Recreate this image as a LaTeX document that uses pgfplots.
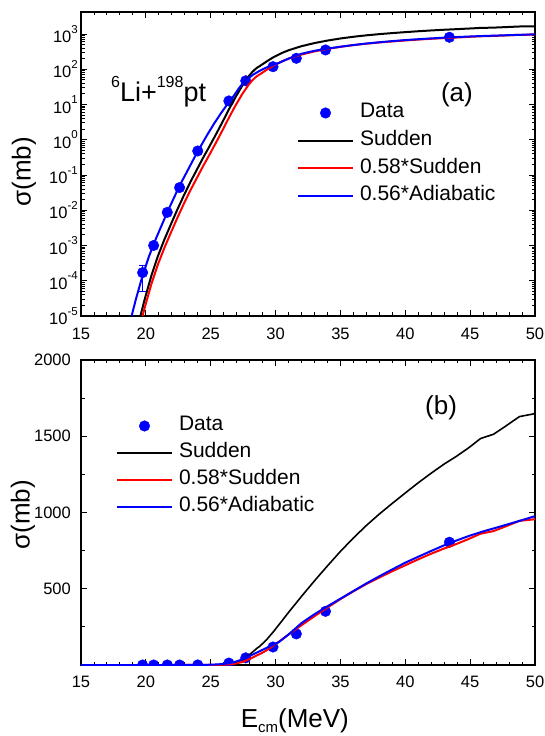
\documentclass[border=0pt]{standalone}
\usepackage{fontspec}
\setmainfont{Liberation Sans}
\usepackage{pgfplots}
\usepackage{pgfplotstable}
\pgfplotsset{compat=1.18}
\newcommand\fs[1]{\fontsize{#1}{#1}\selectfont}
\newcommand\tsup[1]{\raisebox{9.5pt}{\fs{11.5}#1}}

\pgfplotstableread{
E s
15 1e-7
19.4 5.0e-6
19.58 1.0e-5
19.93 3.16e-5
20.43 1.41e-4
20.93 5.01e-4
21.43 1.48e-3
21.93 3.98e-3
22.43 1.05e-2
22.93 2.63e-2
23.43 6.31e-2
23.93 0.141
24.43 0.316
24.93 0.676
25.43 1.48
25.93 3.31
26.43 7.59
26.93 16.6
27.43 33.9
27.93 63.1
28.2 83
28.43 100
28.6 112
28.77 122
29.3 165
29.8 215
30.5 290
31 345
32 450
33 552
34 650
35 745
36 833
37 915
38 990
39 1060
40 1128
41 1195
42 1258
43 1318
43.9 1366
44.9 1425
45.8 1485
46.8 1513
47.8 1570
48.8 1629
49.8 1645
50 1650
}\sudden

\pgfplotstableread{
E s
15 5.8e-8
19.4 2.9e-6
19.58 5.8e-6
19.93 1.83e-5
20.43 8.18e-5
20.93 2.91e-4
21.43 8.58e-4
21.93 2.31e-3
22.43 6.09e-3
22.93 1.53e-2
23.43 3.66e-2
23.93 8.18e-2
24.43 0.183
24.93 0.392
25.43 0.858
25.93 1.92
26.43 4.40
26.93 9.63
27.43 19.7
27.93 36.6
28.2 48.1
28.43 58.0
28.6 65.0
28.77 70.8
29.3 95.7
29.8 124.7
30.5 168
31 200
32 261
33 320
34 377
35 432
36 483
37 531
38 574
39 615
40 654
41 693
42 730
43 764
43.9 792
44.9 827
45.8 861
46.8 878
47.8 911
48.8 945
49.8 954
50 957
}\scaled

\pgfplotstableread{
E s
15 1e-7
18.7 5.0e-6
18.9 1.0e-5
19.25 3.16e-5
19.75 1.41e-4
20.25 5.01e-4
20.75 1.48e-3
21.25 3.98e-3
21.75 1.05e-2
22.25 2.63e-2
22.75 6.31e-2
23.25 0.141
23.75 0.316
24.25 0.676
24.75 1.413
25.25 2.818
25.75 5.37
26.25 9.77
26.75 17.0
27.25 31.6
27.75 50.1
28.25 69.2
28.75 89.1
29.25 110
29.75 130
30.25 150
31 200
32 275
33 333
34 385
35 435
36 485
37 535
38 582
39 627
40 671
41 710
42 748
43 785
44 818
45 849
46 876
47 900
48 925
49 950
50 976
}\adiabatic

\pgfplotstableread{
E s
19.75 1.7e-4
20.6 1.0e-3
21.65 8.7e-3
22.6 0.044
24.0 0.48
26.4 12.6
27.7 47
29.8 118
31.6 204
33.85 352
43.4 805
}\data

\pgfplotsset{
  myaxis/.style={
    scale only axis, width=454pt,
    xmin=15, xmax=50, xtick={15,20,...,50}, minor x tick num=4,
    tick align=inside, major tick length=6pt, minor tick length=3.5pt,
    axis line style={line width=1.2pt},
    every tick/.style={black, line width=0.9pt},
    /pgf/number format/assume math mode=true,
    /pgf/number format/1000 sep={},
    tick label style={font=\fs{16.5}},
    xticklabel style={inner sep=0pt, anchor=north},
    yticklabel style={inner sep=0pt, anchor=east},
    label style={font=\fs{26}},
    clip marker paths=true,
    legend style={draw=none, fill=none, inner sep=0pt, outer sep=0pt,
      font=\fs{21}, anchor=north west, column sep=6pt,
      nodes={inner sep=0pt, text height=15pt, text depth=5pt}},
    legend cell align=left,
    legend image code/.code={\draw[##1] (0pt,0pt) -- (55pt,0pt);},
  },
  datastyle/.style={only marks, mark=*, mark size=5.3pt, color=blue, fill=blue,
    legend image code/.code={\draw[mark repeat=2,mark phase=2,##1] plot coordinates {(0pt,0pt) (27.5pt,0pt) (55pt,0pt)};}},
}

\begin{document}
\begin{tikzpicture}
\useasboundingbox (0,0) rectangle (544pt,736pt);
% ---------- panel (a)
\begin{axis}[myaxis, at={(81pt,420pt)}, anchor=south west, height=304pt,
  ymode=log, ymin=1e-5, ymax=4200,
  ytick={1e-5,1e-4,1e-3,1e-2,1e-1,1,10,100,1000},
  yticklabels={10\tsup{-5},10\tsup{-4},10\tsup{-3},10\tsup{-2},10\tsup{-1},10\tsup{0},10\tsup{1},10\tsup{2},10\tsup{3}},
  yticklabel style={xshift=-3pt},
  xticklabel style={yshift=-12pt},
  ylabel={σ(mb)},
  ylabel style={at={(axis description cs:-0.1256,0.474)}, anchor=center, rotate=0},
  legend style={at={(axis description cs:0.4758,0.7007)}, row sep=7.6pt},
]
\addplot[datastyle] table[x=E,y=s] {\data};
\addlegendentry{Data}
\addplot[black, line width=2pt] table[x=E,y=s] {\sudden};
\addlegendentry{Sudden}
\addplot[red, line width=2pt] table[x=E,y=s] {\scaled};
\addlegendentry{0.58*Sudden}
\addplot[blue, line width=2pt] table[x=E,y=s] {\adiabatic};
\addlegendentry{0.56*Adiabatic}
\addplot[blue, line width=0.8pt, mark=none, forget plot,
  error bars/.cd, y dir=both, y explicit,
  error bar style={line width=0.8pt},
  error mark options={rotate=90, mark size=3.5pt, line width=0.8pt, blue}]
  coordinates {(19.75,1.7e-4) += (0,1.1e-4) -= (0,1.2e-4)};
\node[anchor=base west, font=\fs{27}, inner sep=0pt] at (axis description cs:0.066,0.707)
  {\raisebox{14pt}{\fs{16}6}Li+\raisebox{14pt}{\fs{16}198}pt};
\node[font=\fs{26}, inner sep=0pt] at (axis description cs:0.828,0.727) {(a)};
\end{axis}
% ---------- panel (b)
\begin{axis}[myaxis, at={(81pt,71pt)}, anchor=south west, height=305pt,
  ymin=0, ymax=2000,
  ytick={500,1000,1500,2000}, minor ytick={250,750,1250,1750},
  yticklabel style={xshift=-10pt},
  xticklabel style={yshift=-10.7pt},
  ylabel={σ(mb)},
  ylabel style={at={(axis description cs:-0.128,0.492)}, anchor=center, rotate=0},
  xlabel={E\raisebox{-5pt}{\fs{15}cm}(MeV)},
  xlabel style={at={(axis description cs:0.471,-0.2033)}, anchor=base},
  legend style={at={(axis description cs:0.0771,0.8164)}, row sep=7pt},
]
\addplot[datastyle] table[x=E,y=s] {\data};
\addlegendentry{Data}
\addplot[black, line width=1.6pt] table[x=E,y=s] {\sudden};
\addlegendentry{Sudden}
\addplot[red, line width=2pt] table[x=E,y=s] {\scaled};
\addlegendentry{0.58*Sudden}
\addplot[blue, line width=2pt] table[x=E,y=s] {\adiabatic};
\addlegendentry{0.56*Adiabatic}
\node[font=\fs{26}, inner sep=0pt] at (axis description cs:0.793,0.843) {(b)};
\end{axis}
\end{tikzpicture}
\end{document}
